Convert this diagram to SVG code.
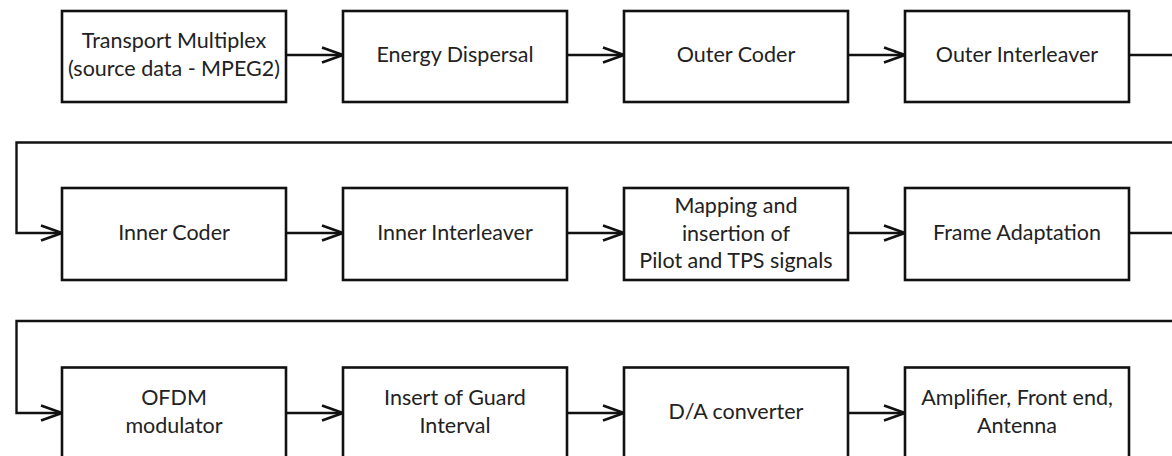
<svg xmlns="http://www.w3.org/2000/svg" width="1172" height="456" viewBox="0 0 1172 456">
<defs>
<style>
.box{fill:#fff;stroke:#111;stroke-width:2.6}
.t{font-family:Lato,"Liberation Sans",sans-serif;font-size:21.5px;fill:#222;text-anchor:middle}
.c{fill:none;stroke:#111;stroke-width:2.4}
</style>
<marker id="ah" markerUnits="userSpaceOnUse" markerWidth="26" markerHeight="20" refX="22" refY="9" orient="auto" viewBox="0 0 26 20">
<path d="M1,1.5 L22,9 L1,16.5" fill="none" stroke="#111" stroke-width="2.6"/>
</marker>
</defs>
<rect width="1172" height="456" fill="#fff"/>
<g id="connectors">
<line class="c" x1="286" y1="55" x2="343" y2="55" marker-end="url(#ah)"/>
<line class="c" x1="567" y1="55" x2="624" y2="55" marker-end="url(#ah)"/>
<line class="c" x1="848" y1="55" x2="905" y2="55" marker-end="url(#ah)"/>
<line class="c" x1="1129" y1="55" x2="1174" y2="55"/>
<polyline class="c" points="1174,142.5 16.5,142.5 16.5,233 62,233" marker-end="url(#ah)"/>
<line class="c" x1="286" y1="233" x2="343" y2="233" marker-end="url(#ah)"/>
<line class="c" x1="567" y1="233" x2="624" y2="233" marker-end="url(#ah)"/>
<line class="c" x1="848" y1="233" x2="905" y2="233" marker-end="url(#ah)"/>
<line class="c" x1="1129" y1="233" x2="1174" y2="233"/>
<polyline class="c" points="1174,321 16.5,321 16.5,413 62,413" marker-end="url(#ah)"/>
<line class="c" x1="286" y1="413" x2="343" y2="413" marker-end="url(#ah)"/>
<line class="c" x1="567" y1="413" x2="624" y2="413" marker-end="url(#ah)"/>
<line class="c" x1="848" y1="413" x2="905" y2="413" marker-end="url(#ah)"/>
</g>
<g id="n1"><rect class="box" x="62" y="11" width="224" height="91"/><text class="t" x="174" y="48">Transport Multiplex</text><text class="t" x="174" y="76">(source data - MPEG2)</text></g>
<g id="n2"><rect class="box" x="343" y="11" width="224" height="91"/><text class="t" x="455" y="62">Energy Dispersal</text></g>
<g id="n3"><rect class="box" x="624" y="11" width="224" height="91"/><text class="t" x="736" y="62">Outer Coder</text></g>
<g id="n4"><rect class="box" x="905" y="11" width="224" height="91"/><text class="t" x="1017" y="62">Outer Interleaver</text></g>
<g id="n5"><rect class="box" x="62" y="188" width="224" height="92"/><text class="t" x="174" y="240">Inner Coder</text></g>
<g id="n6"><rect class="box" x="343" y="188" width="224" height="92"/><text class="t" x="455" y="240">Inner Interleaver</text></g>
<g id="n7"><rect class="box" x="624" y="188" width="224" height="92"/><text class="t" x="736" y="213">Mapping and</text><text class="t" x="736" y="241">insertion of</text><text class="t" x="736" y="268">Pilot and TPS signals</text></g>
<g id="n8"><rect class="box" x="905" y="188" width="224" height="92"/><text class="t" x="1017" y="240">Frame Adaptation</text></g>
<g id="n9"><rect class="box" x="62" y="367.5" width="224" height="92"/><text class="t" x="174" y="405">OFDM</text><text class="t" x="174" y="433">modulator</text></g>
<g id="n10"><rect class="box" x="343" y="367.5" width="224" height="92"/><text class="t" x="455" y="405">Insert of Guard</text><text class="t" x="455" y="433">Interval</text></g>
<g id="n11"><rect class="box" x="624" y="367.5" width="224" height="92"/><text class="t" x="736" y="419">D/A converter</text></g>
<g id="n12"><rect class="box" x="905" y="367.5" width="224" height="92"/><text class="t" x="1017" y="405">Amplifier, Front end,</text><text class="t" x="1017" y="433">Antenna</text></g>
</svg>
